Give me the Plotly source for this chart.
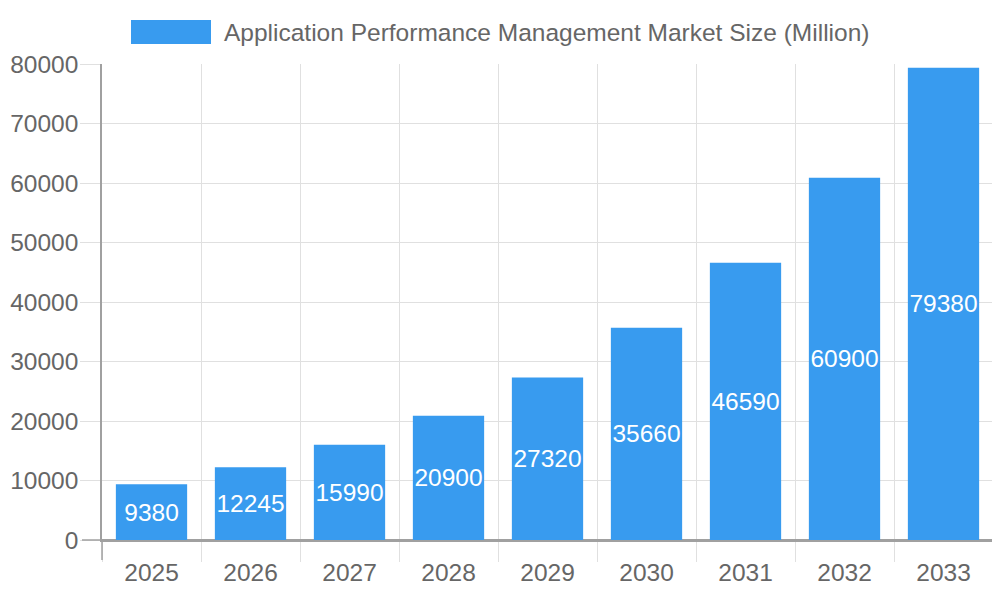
import plotly.graph_objects as go

years = ["2025", "2026", "2027", "2028", "2029", "2030", "2031", "2032", "2033"]
market_size = [9380, 12245, 15990, 20900, 27320, 35660, 46590, 60900, 79380]
series_name = "Application Performance Management Market Size (Million)"
y_ticks = [0, 10000, 20000, 30000, 40000, 50000, 60000, 70000, 80000]
y_tick_text = [str(v) for v in y_ticks]

BLUE = "#389bef"
GRID = "#e0e0e0"
AXIS = "#a0a0a0"
TXT = "#666666"
FONT = "Liberation Sans, Arial, sans-serif"
FS = 24.5

# page body has an 8px margin; plot area in screenshot: x 102..993, y 64..540
OFF = 8
L, R, T, B = 102 - OFF, 993 - OFF, 64 - OFF, 540 - OFF
PW, PH = R - L, B - T

def px(x):
    return (x - OFF - L) / PW

def py(y):
    return (B - (y - OFF)) / PH

fig = go.Figure()
fig.add_trace(go.Bar(
    x=years, y=market_size, name=series_name,
    marker=dict(color=BLUE, line=dict(width=0)),
    width=0.72,
    text=[str(v) for v in market_size],
    textposition="inside", insidetextanchor="middle", textangle=0,
    textfont=dict(color="white", size=FS, family=FONT),
    constraintext="none",
    showlegend=False,
))

fig.update_layout(
    width=1000, height=600,
    margin=dict(l=L, r=1000 - R, t=T, b=600 - B, autoexpand=False),
    paper_bgcolor="white", plot_bgcolor="white",
    font=dict(family=FONT, color=TXT, size=FS),
    xaxis=dict(
        type="category", tickson="boundaries", automargin=False,
        showgrid=True, gridcolor=GRID, gridwidth=1,
        ticks="outside", ticklen=20, tickcolor=GRID, tickwidth=1,
        showline=True, linecolor=AXIS, linewidth=1.5,
        tickfont=dict(size=FS, color=TXT), ticklabelstandoff=10,
        range=[-0.5, 8.5],
    ),
    yaxis=dict(
        range=[0, 80000], tickvals=y_ticks, ticktext=y_tick_text,
        automargin=False,
        showgrid=True, gridcolor=GRID, gridwidth=1,
        ticks="outside", ticklen=20, tickcolor=GRID, tickwidth=1,
        showline=True, linecolor=AXIS, linewidth=1.5,
        zeroline=True, zerolinecolor=AXIS, zerolinewidth=1.5,
        tickfont=dict(size=FS, color=TXT), ticklabelstandoff=-3,
    ),
    shapes=[
        dict(type="rect", xref="paper", yref="paper",
             x0=px(131), x1=px(211), y0=py(44), y1=py(20),
             fillcolor=BLUE, line=dict(width=0)),
        # darker axis tick extensions at the origin
        dict(type="line", xref="paper", yref="paper",
             x0=px(82), x1=px(102), y0=0, y1=0,
             line=dict(color=AXIS, width=1.5)),
        dict(type="line", xref="paper", yref="paper",
             x0=0, x1=0, y0=py(560), y1=0,
             line=dict(color=AXIS, width=1.5)),
    ],
    annotations=[dict(text=series_name, xref="paper", yref="paper",
                      x=px(222), y=py(32),
                      xanchor="left", yanchor="middle", showarrow=False,
                      font=dict(size=FS, color=TXT, family=FONT))],
)

fig.write_html("out.html")
